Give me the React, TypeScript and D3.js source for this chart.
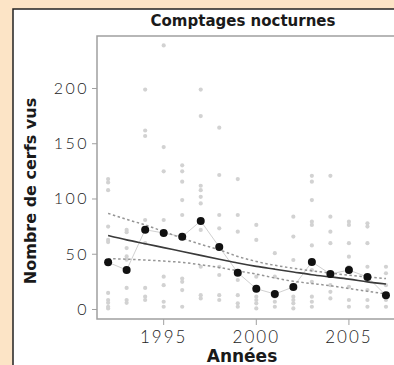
import React from "react";
import * as d3 from "d3";

// years of survey
const years = [1992, 1993, 1994, 1995, 1996, 1997, 1998, 1999, 2000, 2001, 2002, 2003, 2004, 2005, 2006, 2007];

// yearly mean of deer seen (black dots)
const meanCounts = [42.7, 35.7, 72.2, 69.2, 65.9, 80.1, 56.6, 33.3, 18.8, 14.0, 20.4, 43.0, 32.1, 35.7, 29.4, 12.8];

// fitted trend + confidence band
const fitValues = [67, 63, 59.5, 56, 52.5, 49, 45.5, 42, 39, 36.5, 34, 31.5, 29.5, 27.5, 25, 23];
const upperValues = [87, 81.5, 76.5, 70.5, 64.5, 59, 54, 48, 43.5, 40, 37.3, 35, 33, 31, 29.5, 28];
const lowerValues = [46, 45.5, 44.8, 43.8, 42.7, 40.5, 38, 35, 32, 28.5, 25.5, 23.5, 21.5, 19, 16.5, 14];

// individual counts per year (grey dots)
const rawCounts = [
  [118, 115, 108, 75, 63, 61, 15, 8.6, 6, 2.5, 1],
  [72, 70, 55.6, 48, 45, 19.5, 8.6, 6],
  [199, 162, 157, 81, 60, 19.5, 11.6, 8.6],
  [239, 147, 125, 81, 29.7, 22, 7, 2.5],
  [130.5, 125, 115.7, 99, 85.5, 28, 25, 17.6, 2.5],
  [199, 175, 112, 108, 102, 96, 72, 38.7, 13, 10],
  [164.5, 121.7, 85.5, 73.5, 38.7, 31.2, 13, 8.6],
  [118, 85.5, 70.4, 26.7, 13, 5.6, 2.5],
  [76.5, 63, 29.7, 11.6, 8.6, 5.6, 1],
  [51, 29.7, 11.6, 7, 2.5],
  [84, 66, 44.8, 11.6, 8.6, 5.6, 1],
  [121, 115.7, 99, 79.5, 76.5, 58, 35.7, 25, 11.6, 7, 2.5],
  [121, 84, 70.4, 60, 32.8, 22, 16, 10],
  [79.5, 76.5, 60, 47.8, 38.7, 20.6, 8.6, 2.5],
  [78, 75, 60, 38.7, 17.6, 8.6, 2.5],
  [38.7, 32.8, 22, 8.6, 2.5],
];

const xTicks = [1995, 2000, 2005];
const yTicks = [0, 50, 100, 150, 200];

const W = 394;
const H = 365;

export default function App() {
  const x = d3.scaleLinear().domain([1991.4, 2007.65]).range([97, 398]);
  const y = d3.scaleLinear().domain([-8.6, 247.5]).range([319, 36]);

  const line = d3.line<number>()
    .x((d, i) => x(years[i]))
    .y(d => y(d));
  const smooth = d3.line<number>()
    .x((d, i) => x(years[i]))
    .y(d => y(d))
    .curve(d3.curveMonotoneX);

  const tickFont = "Lato, 'Open Sans', sans-serif";
  const boldFont = "'DejaVu Sans', sans-serif";

  return (
    <svg width={W} height={H} style={{ position: "absolute", left: 0, top: 0 }}>
      <rect x={0} y={0} width={W} height={H} fill="#fce4c6" />
      <rect x={13} y={9} width={400} height={380} fill="#fff" stroke="#222" strokeWidth={1.5} />

      <text x={243} y={26} textAnchor="middle" fontFamily={boldFont} fontWeight="bold" fontSize={15} fill="#1a1a1a">
        Comptages nocturnes
      </text>

      {/* raw counts */}
      <g fill="#d2d2d2">
        {rawCounts.map((vals, i) =>
          vals.map((v, j) => <circle key={i + "-" + j} cx={x(years[i])} cy={y(v)} r={2.1} />)
        )}
      </g>

      {/* plot frame */}
      <path d={`M398,36H97V319H398`} fill="none" stroke="#a0a0a0" strokeWidth={1.5} />

      {/* y axis */}
      {yTicks.map(t => (
        <g key={t}>
          <line x1={92} x2={97} y1={y(t)} y2={y(t)} stroke="#a0a0a0" strokeWidth={1} />
          <text x={89} y={y(t) + 5.5} textAnchor="end" fontFamily={tickFont} fontWeight={300} fontSize={16} letterSpacing={2.5} fill="#222">
            {t}
          </text>
        </g>
      ))}

      {/* x axis */}
      {xTicks.map(t => (
        <g key={t}>
          <line x1={x(t)} x2={x(t)} y1={319} y2={325} stroke="#a0a0a0" strokeWidth={1} />
          <text x={x(t)} y={342.5} textAnchor="middle" fontFamily={tickFont} fontWeight={300} fontSize={17} letterSpacing={2} fill="#222">
            {t}
          </text>
        </g>
      ))}

      {/* mean connector */}
      <path d={line(meanCounts) || ""} fill="none" stroke="#c4c4c4" strokeWidth={0.8} />

      {/* confidence band */}
      <path d={smooth(upperValues) || ""} fill="none" stroke="#959595" strokeWidth={1.5} strokeDasharray="2.5,2.5" />
      <path d={smooth(lowerValues) || ""} fill="none" stroke="#959595" strokeWidth={1.5} strokeDasharray="2.5,2.5" />
      {/* fitted trend */}
      <path d={smooth(fitValues) || ""} fill="none" stroke="#3a3a3a" strokeWidth={1.6} />

      <g fill="#111">
        {meanCounts.map((v, i) => (
          <circle key={i} cx={x(years[i])} cy={y(v)} r={4} />
        ))}
      </g>

      <text x={242} y={362} textAnchor="middle" fontFamily={boldFont} fontWeight="bold" fontSize={17} fill="#1a1a1a">
        Années
      </text>
      <text transform="translate(36,191) rotate(-90)" textAnchor="middle" fontFamily={boldFont} fontWeight="bold" fontSize={16} fill="#1a1a1a">
        Nombre de cerfs vus
      </text>
    </svg>
  );
}
